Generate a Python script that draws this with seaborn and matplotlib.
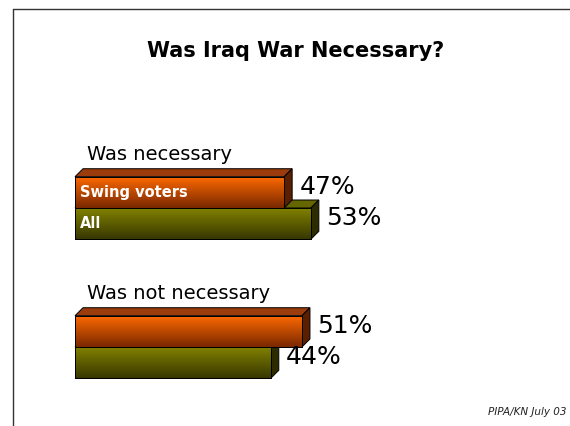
import numpy as np
import pandas as pd
import matplotlib
matplotlib.use("Agg")
import matplotlib.pyplot as plt
from matplotlib.colors import to_rgb
from matplotlib.patches import Polygon
from matplotlib.lines import Line2D
import seaborn as sns

sns.set_theme(style="white")
plt.rcParams["font.family"] = ["DejaVu Sans"]
plt.rcParams["text.color"] = "black"

# data
questions = ["Was necessary", "Was not necessary"]
groups = ["Swing voters", "All"]
swing = [47, 51]
all_voters = [53, 44]
title = "Was Iraq War Necessary?"
source = "PIPA/KN July 03"

df = pd.DataFrame({
    "question": questions * 2,
    "group": [groups[0]] * 2 + [groups[1]] * 2,
    "pct": swing + all_voters,
})

# colours: (top of gradient, bottom of gradient, top face, side face)
shades = {
    "Swing voters": ("#ff6a00", "#7a2800", "#9c3c0c", "#5a1e00"),
    "All": ("#838300", "#383800", "#666600", "#2c2c00"),
}

fig = plt.figure(figsize=(5.7, 4.26), dpi=100)
ax = fig.add_axes([0, 0, 1, 1])

W, H = 570, 426
x0_px, px_per_pct = 75, 4.45
y0_px, px_per_cat = 208, 139

sns.barplot(data=df, x="pct", y="question", hue="group", order=questions,
            hue_order=groups, orient="h", width=0.45, gap=0,
            palette={g: shades[g][0] for g in groups}, legend=False,
            edgecolor="black", linewidth=0.7, ax=ax)

xlim = (-x0_px / px_per_pct, (W - x0_px) / px_per_pct)
ylim = ((H - y0_px) / px_per_cat, -y0_px / px_per_cat)

# depth of the 3d look, 8 px right and 8 px up
dx = 8 / px_per_pct
dy = -8 / px_per_cat

for g, cont in zip(groups, ax.containers):
    top_c, bot_c, face_top, face_side = shades[g]
    z = 3 if g == "Swing voters" else 2
    grad = np.linspace(0, 1, 64)[:, None, None]
    img = (1 - grad) * np.array(to_rgb(top_c)) + grad * np.array(to_rgb(bot_c))
    for bar in cont:
        x, y = bar.get_x(), bar.get_y()
        w, h = bar.get_width(), bar.get_height()
        ytop, ybot = y, y + h
        bar.set_zorder(z)
        im = ax.imshow(img, extent=(x, x + w, ybot, ytop), aspect="auto",
                       origin="upper", zorder=z + 0.1)
        im.set_clip_path(bar)
        ax.add_patch(Polygon([(x, ytop), (x + w, ytop), (x + w + dx, ytop + dy),
                              (x + dx, ytop + dy)], closed=True,
                             facecolor=face_top, edgecolor="black",
                             linewidth=0.7, zorder=z))
        ax.add_patch(Polygon([(x + w, ytop), (x + w + dx, ytop + dy),
                              (x + w + dx, ybot + dy), (x + w, ybot)],
                             closed=True, facecolor=face_side,
                             edgecolor="black", linewidth=0.7, zorder=z))
        ax.add_patch(Polygon([(x, ytop), (x + w, ytop), (x + w, ybot), (x, ybot)],
                             closed=True, facecolor="none", edgecolor="black",
                             linewidth=0.7, zorder=z + 0.2))
        yc = y + h / 2
        ax.text(w + dx + 1.6, yc - 0.04, f"{w:.0f}%", fontsize=18,
                va="center", ha="left", color="black", zorder=5)
        if bar is cont[0]:
            ax.text(x + 1.2, yc, g, fontsize=10.5, fontweight="bold",
                    color="white", va="center", ha="left", zorder=6)

for i, q in enumerate(questions):
    ax.text(2.7, i - 0.385, q, fontsize=14, va="center", ha="left",
            color="black")

ax.set_xlim(*xlim)
ax.set_ylim(*ylim)
ax.set_axis_off()

fig.text(0.518, 1 - 51 / H, title, fontsize=15, fontweight="bold",
         ha="center", va="center", color="black")
fig.text(567 / W, 1 - 412 / H, source, fontsize=7.5, style="italic",
         ha="right", va="center", color="#222222")

fig.add_artist(Line2D([13 / W, 1], [1 - 9 / H, 1 - 9 / H], color="#333333",
                      linewidth=1, transform=fig.transFigure))
fig.add_artist(Line2D([13 / W, 13 / W], [1 - 9 / H, 0], color="#333333",
                      linewidth=1, transform=fig.transFigure))

fig.savefig("out.png", dpi=100)
